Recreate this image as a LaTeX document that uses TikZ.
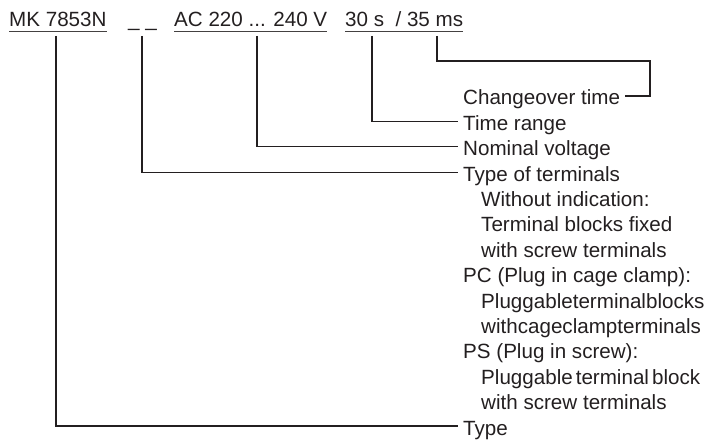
\documentclass[tikz,border=0pt]{standalone}
\usepackage{fontspec}
\setmainfont{Liberation Sans}
\definecolor{ink}{HTML}{231F20}
\begin{document}
\begin{tikzpicture}[x=1pt,y=-1pt,
  txt/.style={inner sep=0pt, anchor=base west, font=\fontsize{20.6}{24}\selectfont, text=ink},
  wire/.style={draw=ink, line width=1.1pt},
  uline/.style={draw=ink!85, line width=0.9pt}]
\useasboundingbox (0,0) rectangle (710,441);
% top code
\node[txt] (mk) at (9,27) {MK 7853N};
\node[txt] (tt) at (128,27) {\_ \_};
\node[txt] (ac) at (174,27) {AC 220 ... 240 V};
\node[txt] (tm) at (345,27) {30 s\ \ / 35 ms};
\foreach \n in {mk,ac,tm}
  \draw[uline] ([yshift=-4pt]\n.base west) -- ([yshift=-4pt]\n.base east);
% connector starts
\coordinate (pType) at (56,36);
\coordinate (pTerm) at (142,36);
\coordinate (pVolt) at (257,36);
\coordinate (pRange) at (372,36);
\coordinate (pChg) at (437,36);
\coordinate (cChg) at (650,61);
% labels
\node[txt] (lCh) at (463,105) {Changeover time};
\node[txt] (lTr) at (463,130.4) {Time range};
\node[txt] (lNv) at (463,155.8) {Nominal voltage};
\node[txt] (lTt) at (463,181.1) {Type of terminals};
\node[txt] (s1) at (481,206.5) {Without indication:};
\node[txt] (s2) at (481,231.9) {Terminal blocks fixed};
\node[txt] (s3) at (481,257.3) {with screw terminals};
\node[txt] (lPC) at (463,282.7) {PC (Plug in cage clamp):};
\node[txt] (s4) at (481,308.1) {Pluggableterminalblocks};
\node[txt] (s5) at (481,333.4) {withcageclampterminals};
\node[txt] (lPS) at (463,358.8) {PS (Plug in screw):};
\node[txt] (s6) at (481,384.2) {Pluggable\hspace{3pt}terminal\hspace{3pt}block};
\node[txt] (s7) at (481,409.6) {with screw terminals};
\node[txt] (lTy) at (463,435) {Type};
% connectors
\draw[wire] (pChg) |- (cChg) |- ([xshift=5pt,yshift=9pt]lCh.base east);
\draw[wire] (pRange) |- ([xshift=-5pt,yshift=9pt]lTr.base west);
\draw[wire] (pVolt) |- ([xshift=-5pt,yshift=9pt]lNv.base west);
\draw[wire] (pTerm) |- ([xshift=-5pt,yshift=9pt]lTt.base west);
\draw[wire] (pType) |- ([xshift=-5pt,yshift=9pt]lTy.base west);
\end{tikzpicture}
\end{document}
